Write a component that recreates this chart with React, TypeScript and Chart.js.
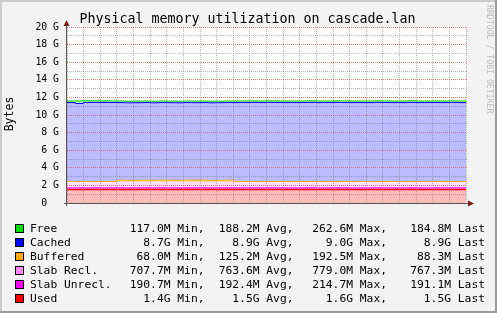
import React, { useEffect, useRef } from 'react';
import { Chart, registerables } from 'chart.js';

Chart.register(...registerables);

// ---- data (values in G) ----
const hours = [
  12.5, 13, 13.5, 14, 14.5, 15, 15.5,
  16, 16.5, 17, 17.5, 18, 18.5, 19,
  19.5, 20, 20.5, 21, 21.5, 22, 22.5,
  23, 23.5, 24, 24.5, 25, 25.5, 26,
  26.5, 27, 27.5, 28, 28.5, 29, 29.5,
  30, 30.5, 31, 31.5, 32, 32.5, 33,
  33.5, 34, 34.5, 35, 35.5, 36, 36.5,
];

const used = [
  1.53, 1.53, 1.53, 1.53, 1.53, 1.53, 1.53,
  1.53, 1.53, 1.53, 1.53, 1.53, 1.53, 1.53,
  1.53, 1.53, 1.53, 1.53, 1.53, 1.53, 1.53,
  1.53, 1.53, 1.53, 1.53, 1.53, 1.53, 1.53,
  1.53, 1.53, 1.53, 1.53, 1.53, 1.53, 1.53,
  1.53, 1.53, 1.53, 1.53, 1.53, 1.53, 1.53,
  1.53, 1.53, 1.53, 1.53, 1.53, 1.53, 1.53,
];

const slabUnrecl = [
  0.19, 0.2, 0.19, 0.21, 0.19, 0.2, 0.21,
  0.19, 0.2, 0.21, 0.19, 0.21, 0.2, 0.19,
  0.21, 0.2, 0.21, 0.19, 0.2, 0.21, 0.19,
  0.2, 0.21, 0.19, 0.21, 0.2, 0.19, 0.19,
  0.2, 0.21, 0.19, 0.19, 0.21, 0.2, 0.19,
  0.19, 0.19, 0.21, 0.2, 0.19, 0.19, 0.21,
  0.19, 0.19, 0.2, 0.19, 0.21, 0.19, 0.19,
];

const slabRecl = [
  0.64, 0.64, 0.64, 0.64, 0.64, 0.64, 0.66,
  0.66, 0.66, 0.66, 0.66, 0.66, 0.66, 0.66,
  0.66, 0.66, 0.66, 0.66, 0.66, 0.66, 0.64,
  0.64, 0.64, 0.64, 0.64, 0.64, 0.64, 0.64,
  0.64, 0.64, 0.64, 0.64, 0.64, 0.64, 0.64,
  0.64, 0.64, 0.64, 0.64, 0.64, 0.64, 0.64,
  0.64, 0.64, 0.64, 0.64, 0.64, 0.64, 0.64,
];

const buffered = [
  0.07, 0.07, 0.09, 0.07, 0.09, 0.07, 0.19,
  0.19, 0.19, 0.19, 0.19, 0.19, 0.19, 0.19,
  0.19, 0.19, 0.19, 0.19, 0.19, 0.19, 0.07,
  0.07, 0.07, 0.07, 0.07, 0.07, 0.07, 0.07,
  0.07, 0.07, 0.07, 0.07, 0.07, 0.07, 0.07,
  0.07, 0.07, 0.07, 0.07, 0.07, 0.07, 0.07,
  0.07, 0.07, 0.07, 0.07, 0.07, 0.07, 0.07,
];

const cached = [
  8.98, 8.87, 8.98, 8.98, 8.98, 8.98, 8.82,
  8.82, 8.82, 8.82, 8.82, 8.82, 8.82, 8.82,
  8.82, 8.82, 8.82, 8.82, 8.82, 8.82, 8.98,
  8.98, 8.98, 8.98, 8.98, 8.98, 8.98, 8.98,
  8.98, 8.98, 8.98, 8.98, 8.98, 8.98, 8.98,
  8.98, 8.98, 8.98, 8.98, 8.98, 8.98, 8.98,
  8.98, 8.98, 8.98, 8.98, 8.98, 8.98, 8.98,
];

const free = [
  0.18, 0.29, 0.18, 0.18, 0.18, 0.18, 0.18,
  0.18, 0.18, 0.18, 0.18, 0.18, 0.18, 0.18,
  0.18, 0.18, 0.18, 0.18, 0.18, 0.18, 0.18,
  0.18, 0.18, 0.18, 0.18, 0.18, 0.18, 0.18,
  0.18, 0.18, 0.18, 0.18, 0.18, 0.18, 0.18,
  0.18, 0.18, 0.18, 0.18, 0.18, 0.18, 0.18,
  0.18, 0.18, 0.18, 0.18, 0.18, 0.18, 0.18,
];

const xLabelHours = [18, 24, 30, 36];
const xLabelTexts = ['Sun 18:00', 'Mon 00:00', 'Mon 06:00', 'Mon 12:00'];

const title = 'Physical memory utilization on cascade.lan';
const yTitle = 'Bytes';
const watermark = 'RRDTOOL / TOBI OETIKER';

const legendLabels = ['Free', 'Cached', 'Buffered', 'Slab Recl.', 'Slab Unrecl.', 'Used'];
const legendColors = ['#00E000', '#0000FF', '#FFAA00', '#FF88FF', '#FF00FF', '#FF0000'];
const legendMin = ['117.0M', '8.7G', '68.0M', '707.7M', '190.7M', '1.4G'];
const legendAvg = ['188.2M', '8.9G', '125.2M', '763.6M', '192.4M', '1.5G'];
const legendMax = ['262.6M', '9.0G', '192.5M', '779.0M', '214.7M', '1.6G'];
const legendLast = ['184.8M', '8.9G', '88.3M', '767.3M', '191.1M', '1.5G'];

const MONO = '"DejaVu Sans Mono", monospace';

const pts = (arr: number[]) => hours.map((h, i) => ({ x: h, y: arr[i] }));

const decor = {
  id: 'rrdDecor',
  beforeDraw(chart: any) {
    const { ctx, chartArea: a, width, height } = chart;
    ctx.save();
    ctx.fillStyle = '#F3F3F3';
    ctx.fillRect(0, 0, width, height);
    ctx.fillStyle = '#CBCBCB';
    ctx.fillRect(0, 0, width, 2);
    ctx.fillRect(0, 0, 2, height);
    ctx.fillStyle = '#9B9B9B';
    ctx.fillRect(width - 2, 0, 2, height);
    ctx.fillRect(0, height - 2, width, 2);
    ctx.fillStyle = '#FFFFFF';
    ctx.fillRect(a.left, a.top, a.right - a.left, a.bottom - a.top);
    ctx.restore();
  },
  afterDraw(chart: any) {
    const { ctx, chartArea: a } = chart;
    ctx.save();
    // axes
    ctx.strokeStyle = '#555555';
    ctx.lineWidth = 1;
    ctx.beginPath();
    ctx.moveTo(a.left - 3, a.bottom + 0.5);
    ctx.lineTo(a.right + 4, a.bottom + 0.5);
    ctx.moveTo(a.left - 0.5, a.bottom + 3);
    ctx.lineTo(a.left - 0.5, a.top - 3);
    ctx.stroke();
    // arrows
    ctx.fillStyle = '#7F1A1A';
    ctx.beginPath();
    ctx.moveTo(a.left - 0.5, a.top - 7);
    ctx.lineTo(a.left - 3.5, a.top - 1);
    ctx.lineTo(a.left + 2.5, a.top - 1);
    ctx.closePath();
    ctx.fill();
    ctx.beginPath();
    ctx.moveTo(a.right + 8, a.bottom + 0.5);
    ctx.lineTo(a.right + 2, a.bottom - 2.5);
    ctx.lineTo(a.right + 2, a.bottom + 3.5);
    ctx.closePath();
    ctx.fill();

    // title
    ctx.fillStyle = '#000';
    ctx.font = `13.3px ${MONO}`;
    ctx.textAlign = 'center';
    ctx.textBaseline = 'alphabetic';
    ctx.fillText(title, 247.5, 22.5);

    // y title
    ctx.save();
    ctx.translate(10, 114);
    ctx.rotate(-Math.PI / 2);
    ctx.font = `11.5px ${MONO}`;
    ctx.textAlign = 'center';
    ctx.textBaseline = 'middle';
    ctx.fillText(yTitle, 0, 0);
    ctx.restore();

    // watermark
    ctx.save();
    ctx.translate(489, 5);
    ctx.rotate(Math.PI / 2);
    ctx.font = `8.2px ${MONO}`;
    ctx.fillStyle = '#BDBDBD';
    ctx.textAlign = 'left';
    ctx.textBaseline = 'middle';
    ctx.fillText(watermark, 0, 0);
    ctx.restore();

    // legend
    ctx.font = `11.3px ${MONO}`;
    ctx.textBaseline = 'middle';
    legendLabels.forEach((lab, i) => {
      const y = 228.5 + i * 14;
      ctx.fillStyle = '#000';
      ctx.fillRect(15, Math.round(y - 4.5), 9, 9);
      ctx.fillStyle = legendColors[i];
      ctx.fillRect(16, Math.round(y - 4.5) + 1, 7, 7);
      ctx.fillStyle = '#000';
      ctx.textAlign = 'left';
      ctx.fillText(lab, 30, y + 0.5);
      ctx.textAlign = 'right';
      ctx.fillText(`${legendMin[i]} Min,`, 204.5, y + 0.5);
      ctx.fillText(`${legendAvg[i]} Avg,`, 293.5, y + 0.5);
      ctx.fillText(`${legendMax[i]} Max,`, 387, y + 0.5);
      ctx.fillText(`${legendLast[i]} Last`, 485, y + 0.5);
    });
    ctx.restore();
  },
};

const MAJOR = 'rgba(225,70,70,0.7)';
const MINOR = 'rgba(120,120,120,0.55)';

export default function App() {
  const ref = useRef<HTMLCanvasElement>(null);
  useEffect(() => {
    const common = { pointRadius: 0, pointHoverRadius: 0, stepped: true, tension: 0 };
    const chart = new Chart(ref.current as HTMLCanvasElement, {
      type: 'line',
      data: {
        datasets: [
          { ...common, label: 'Used', data: pts(used), borderColor: '#FF0000', borderWidth: 1.5, backgroundColor: '#FFBBBB', fill: 'origin' },
          { ...common, label: 'Slab Unrecl.', data: pts(slabUnrecl), borderColor: '#FF00FF', borderWidth: 1, backgroundColor: '#FFAAFF', fill: '-1' },
          { ...common, label: 'Slab Recl.', data: pts(slabRecl), borderColor: 'rgba(0,0,0,0)', borderWidth: 0, backgroundColor: '#FFDDFF', fill: '-1' },
          { ...common, label: 'Buffered', data: pts(buffered), borderColor: '#FFAA00', borderWidth: 1, backgroundColor: '#FFE0A0', fill: '-1' },
          { ...common, label: 'Cached', data: pts(cached), borderColor: '#0000FF', borderWidth: 1, backgroundColor: '#BBBBFF', fill: '-1' },
          { ...common, label: 'Free', data: pts(free), borderColor: '#00CC00', borderWidth: 1, backgroundColor: '#BBFFBB', fill: '-1' },
        ],
      },
      options: {
        animation: false,
        responsive: false,
        events: [],
        layout: { padding: { left: 0, right: 31, top: 27, bottom: 0 } },
        plugins: { legend: { display: false }, tooltip: { enabled: false }, title: { display: false } },
        scales: {
          x: {
            type: 'linear',
            min: 12.5,
            max: 36.5,
            z: 1,
            grid: {
              z: 1,
              drawTicks: false,
              lineWidth: 1,
              color: (c: any) => (c.tick && c.tick.value % 3 === 0 ? MAJOR : MINOR),
            },
            border: { display: false, dash: [1, 1] },
            ticks: {
              stepSize: 1,
              includeBounds: false,
              autoSkip: false,
              maxRotation: 0,
              minRotation: 0,
              padding: 2,
              color: '#000',
              font: { family: 'DejaVu Sans Mono', size: 9.8 },
              callback: (v: any) => {
                const k = xLabelHours.indexOf(Number(v));
                return k >= 0 ? xLabelTexts[k] : '';
              },
            },
            afterFit: (s: any) => { s.height = 110; },
          },
          y: {
            stacked: true,
            min: 0,
            max: 20,
            z: 1,
            grid: {
              z: 1,
              drawTicks: false,
              lineWidth: 1,
              color: (c: any) => (c.tick && c.tick.value % 2 === 0 ? MAJOR : MINOR),
            },
            border: { display: false, dash: [1, 1] },
            ticks: {
              stepSize: 1,
              autoSkip: false,
              padding: 8,
              color: '#000',
              font: { family: 'DejaVu Sans Mono', size: 9.8 },
              callback: (v: any) => {
                const n = Number(v);
                if (n % 2 !== 0) return '';
                return n === 0 ? '0  ' : `${n} G`;
              },
            },
            afterFit: (s: any) => { s.width = 67; },
          },
        },
      },
      plugins: [decor],
    } as any);
    return () => chart.destroy();
  }, []);
  return (
    <div style={{ position: 'fixed', left: 0, top: 0, width: 497, height: 313 }}>
      <canvas ref={ref} width={497} height={313} style={{ display: 'block', width: 497, height: 313 }} />
    </div>
  );
}
